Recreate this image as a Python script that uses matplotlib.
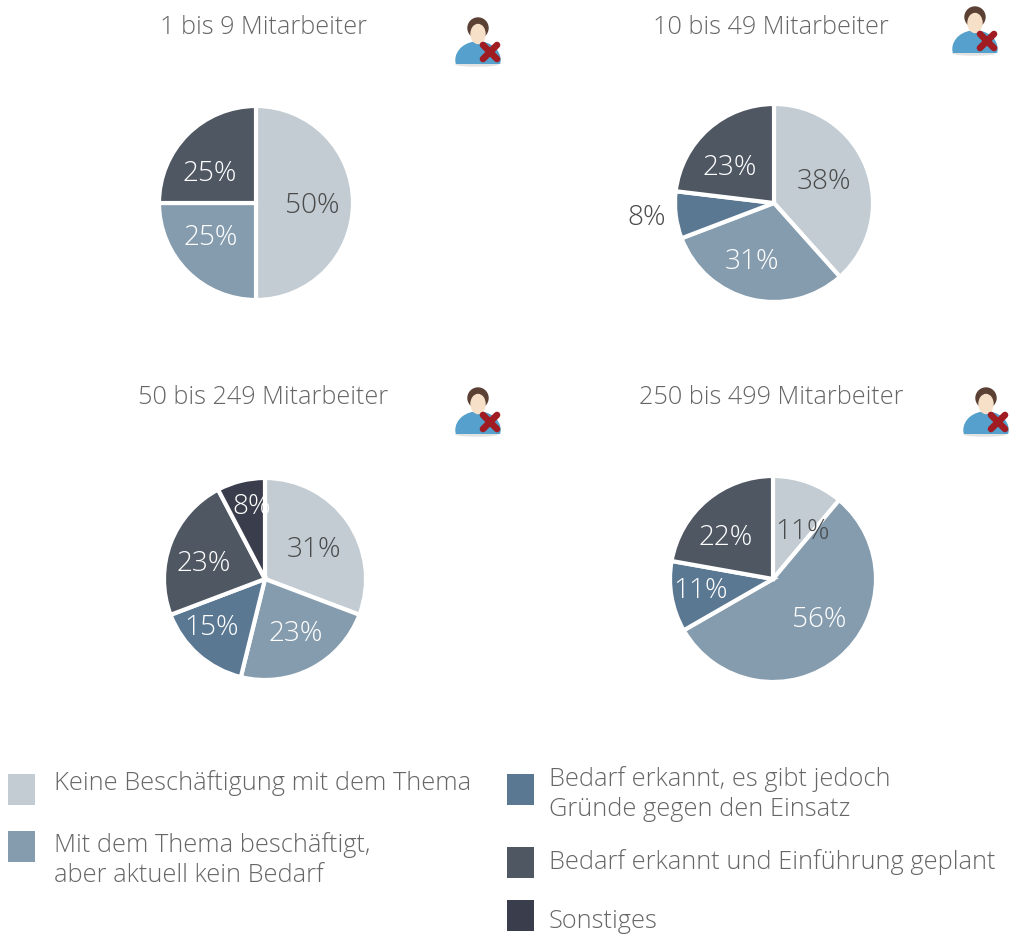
import matplotlib
matplotlib.use("Agg")
import matplotlib.pyplot as plt
from matplotlib.patches import Circle, Ellipse, Rectangle, Polygon

plt.rcParams['font.family'] = ['Open Sans', 'DejaVu Sans']

W, H = 1010, 934

# data
titles = ["1 bis 9 Mitarbeiter", "10 bis 49 Mitarbeiter", "50 bis 249 Mitarbeiter", "250 bis 499 Mitarbeiter"]
cat_names = ["Keine Beschäftigung mit dem Thema",
             "Mit dem Thema beschäftigt,\naber aktuell kein Bedarf",
             "Bedarf erkannt, es gibt jedoch\nGründe gegen den Einsatz",
             "Bedarf erkannt und Einführung geplant",
             "Sonstiges"]
cat_colors = ["#c2ccd2", "#859cae", "#5b7893", "#4f5763", "#3a3e4c"]
pie1_vals = [50, 25, 25]
pie1_cats = [0, 1, 3]
pie2_vals = [38.4, 30.8, 7.7, 23.1]
pie2_cats = [0, 1, 2, 3]
pie3_vals = [30.8, 23.1, 15.4, 23.1, 7.7]
pie3_cats = [0, 1, 2, 3, 4]
pie4_vals = [11.1, 55.6, 11.1, 22.2]
pie4_cats = [0, 1, 2, 3]

# layout, in pixels of the picture
centers = [(256, 203, 97), (774, 203, 99), (265, 579, 101), (773, 579, 103)]
title_pos = [(263, 27), (771, 27), (263, 397), (771, 397)]
icon_pos = [(480, 41), (977, 30), (480, 411), (988, 411)]
label_pos = [[(312, 206), (211, 238), (210, 174)],
             [(824, 182), (752, 262), (647, 218), (730, 168)],
             [(314, 550), (296, 634), (212, 628), (204, 564), (252, 507)],
             [(803, 532), (819, 620), (701, 591), (726, 538)]]
dark_text = "#4a4a4a"
grey_text = "#666666"
font_big = 18.2
font_pct = 20.2
font_leg = 18.3

fig = plt.figure(figsize=(W / 100, H / 100), dpi=100)
bg = fig.add_axes([0, 0, 1, 1])
bg.set_xlim(0, W)
bg.set_ylim(H, 0)
bg.axis("off")


def draw_pie(vals, cats, c):
    cx, cy, r = c
    ax = fig.add_axes([(cx - r - 2) / W, 1 - (cy + r + 2) / H, (2 * r + 4) / W, (2 * r + 4) / H])
    ax.pie(vals, colors=[cat_colors[i] for i in cats], startangle=90, counterclock=False,
           radius=r / (r + 2), wedgeprops={"edgecolor": "white", "linewidth": 3.0})
    ax.set_xlim(-1, 1)
    ax.set_ylim(-1, 1)


def draw_icon(x, y):
    # little user with a red cross
    bg.add_patch(Ellipse((x - 3, y + 23), 42, 4, color="#e2e2e2", zorder=1))
    body = Ellipse((x - 2, y + 19), 44, 36, color="#55a0cc", zorder=1)
    bg.add_patch(body)
    body.set_clip_path(Rectangle((x - 30, y), 60, 23, transform=bg.transData))
    hair = Ellipse((x - 2, y - 13), 20, 20, color="#5b4034", zorder=2)
    bg.add_patch(hair)
    bg.add_patch(Ellipse((x - 2, y - 7), 14, 19, color="#f6e0c8", zorder=2))
    cx, cy = x + 10, y + 11
    bg.plot([cx - 7, cx + 7], [cy - 7, cy + 7], color="#a01c22", lw=4.8, solid_capstyle="round", zorder=3)
    bg.plot([cx - 7, cx + 7], [cy + 7, cy - 7], color="#a01c22", lw=4.8, solid_capstyle="round", zorder=3)


all_vals = [pie1_vals, pie2_vals, pie3_vals, pie4_vals]
all_cats = [pie1_cats, pie2_cats, pie3_cats, pie4_cats]

for i in range(4):
    draw_pie(all_vals[i], all_cats[i], centers[i])
    bg.text(title_pos[i][0], title_pos[i][1], titles[i], ha="center", va="center",
            fontsize=font_big, color=grey_text, fontweight="light")
    draw_icon(*icon_pos[i])

# pct labels go on top of the pies
top = fig.add_axes([0, 0, 1, 1])
top.set_xlim(0, W)
top.set_ylim(H, 0)
top.axis("off")
top.patch.set_alpha(0)
for i in range(4):
    for j, v in enumerate(all_vals[i]):
        cat = all_cats[i][j]
        col = dark_text if cat == 0 else "white"
        if i == 1 and j == 2:
            col = dark_text
        top.text(label_pos[i][j][0], label_pos[i][j][1], f"{v:.0f}%", ha="center", va="center",
                 fontsize=font_pct, color=col, fontweight="light")

# legend
leg_boxes = [(8, 774, 27, 31), (8, 831, 27, 31), (507, 774, 27, 31), (507, 847, 27, 31), (507, 900, 27, 31)]
leg_text = [(54, 783), (54, 860), (549, 794), (549, 862), (549, 921)]
for i in range(5):
    x, y, w, h = leg_boxes[i]
    top.add_patch(Rectangle((x, y), w, h, color=cat_colors[i], lw=0))
    top.text(leg_text[i][0], leg_text[i][1], cat_names[i], ha="left", va="center",
             fontsize=font_leg, color=grey_text, fontweight="light", linespacing=1.28)

fig.savefig("out.png", dpi=100)
